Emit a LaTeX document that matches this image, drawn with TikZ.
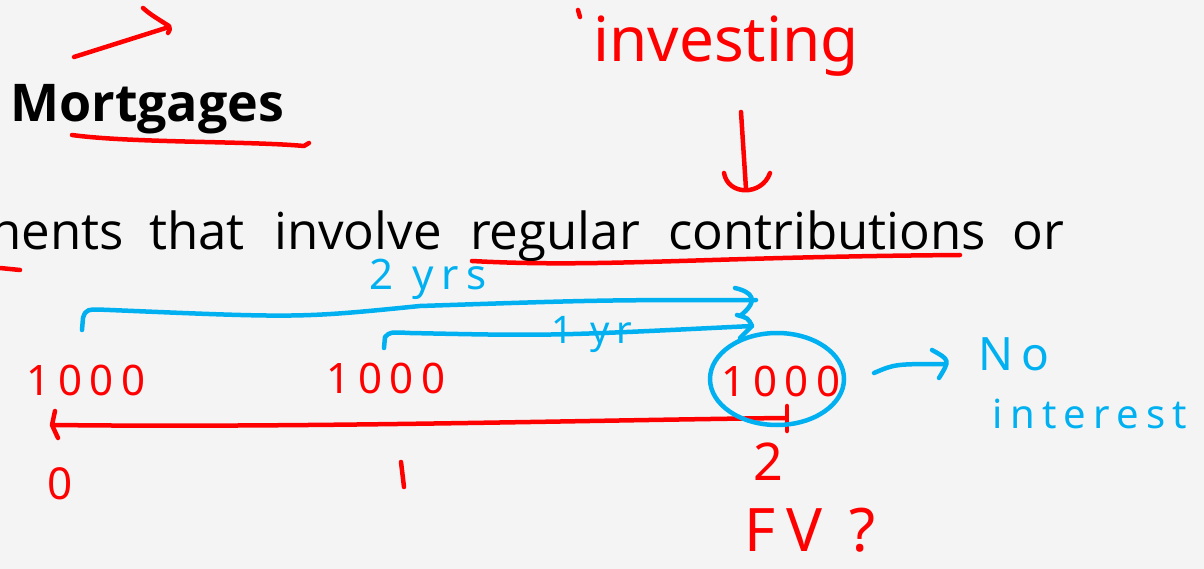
\documentclass[tikz,border=0pt]{standalone}
\usepackage{fontspec}
\setmainfont{Open Sans}
\newfontfamily\hand{Noto Sans}
\newfontfamily\handwide[LetterSpace=18]{Noto Sans}
\definecolor{ink}{HTML}{FF0000}
\definecolor{blu}{HTML}{00B0F0}
\definecolor{bg}{HTML}{F4F4F4}
\begin{document}
\begin{tikzpicture}[x=1pt,y=-1pt,
  pen/.style={line width=4.5pt,line cap=round,line join=round},
  redpen/.style={pen,draw=ink},
  bluepen/.style={pen,draw=blu},
  slide/.style={inner sep=0,anchor=base west,font=\fontsize{51}{60}\selectfont},
  hw/.style={inner sep=0,font=\hand\fontsize{44}{50}\selectfont},
  num/.style={inner sep=0,text=ink,font=\handwide\fontsize{42}{48}\selectfont},
]
\fill[bg] (0,0) rectangle (1204,569);
\useasboundingbox (0,0) rectangle (1204,569);

% slide text
\node[slide,font=\bfseries\fontsize{52}{60}\selectfont] (mort) at (10,122) {Mortgages};
\node[slide] (w1) at (-10,250) {nents};
\node[slide] (w2) at (149,250) {that};
\node[slide] (w3) at (274,250) {involve};
\node[slide] (w4) at (470,250) {regular};
\node[slide] (w5) at (668,250) {contributions};
\node[slide] (w6) at (1012,250) {or};

% red annotations
\coordinate (a1s) at (74,57);
\coordinate (a1e) at (169,27);
\draw[redpen] (a1s) -- (a1e);
\draw[redpen] (143,8) .. controls (150,14) .. (169,26) .. controls (170,30) .. (168,33);
\draw[redpen] (72,135) .. controls (130,143) and (250,141) .. (304,146) -- (309,143);

\node[hw,text=ink,font=\hand\fontsize{62}{66}\selectfont] (inv) at (726,46) {investing};
\draw[redpen] (578,10) -- (580,17);
\coordinate (dTop) at (741,112);
\coordinate (dBot) at (746,189);
\draw[redpen] (dTop) .. controls (743,150) .. (dBot);
\draw[redpen] (724,173) .. controls (728,196) and (762,196) .. (770,173);

\draw[redpen] (0,268) -- (20,270);
\draw[redpen] (472,261) .. controls (600,268) and (700,257) .. (960,255);

% time line
\node[num] (n0) at (86,380) {1000};
\node[num] (n1) at (386,378) {1000};
\node[num] (n2) at (781,381) {1000};
\coordinate (tR) at (785,418);
\coordinate (tL) at (55,425);
\draw[redpen] (tR) .. controls (600,420) and (300,428) .. (tL);
\draw[redpen] (55,411) -- (52,425) -- (58,438);
\draw[redpen] (787,406) -- (787,431);
\node[hw,text=ink,font=\hand\fontsize{44}{50}\selectfont] (t0) at (60,484) {0};
\draw[redpen] (401,462) -- (404,487);
\node[hw,text=ink,font=\hand\fontsize{52}{58}\selectfont] (t2) at (768,462) {2};
\node[hw,text=ink,font=\handwide\fontsize{60}{64}\selectfont] (fv) at (810,530) {FV ?};

% blue annotations
\node[hw,text=blu,font=\handwide\fontsize{42}{46}\selectfont] (yr2) at (428,279) {2 yrs};
\coordinate (b1s) at (82,330);
\coordinate (b1e) at (756,300);
\draw[bluepen] (b1s) -- (83,318) .. controls (86,309) .. (110,310) .. controls (300,318) .. (420,306) .. controls (600,300) .. (b1e);
\draw[bluepen] (735,288) .. controls (752,292) and (760,300) .. (740,316);
\coordinate (b2s) at (384,348);
\coordinate (b2e) at (752,326);
\draw[bluepen] (b2s) -- (385,337) .. controls (390,332) .. (410,333) .. controls (550,336) .. (b2e);
\draw[bluepen] (737,315) .. controls (748,318) .. (752,326) -- (740,338);
\node[hw,text=blu,font=\handwide\fontsize{38}{42}\selectfont] (yr1) at (592,334) {1 yr};

\draw[bluepen] (777,379) ellipse [x radius=67, y radius=46];
\coordinate (c1) at (874,373);
\coordinate (c2) at (946,364);
\draw[bluepen] (c1) .. controls (895,364) .. (c2);
\draw[bluepen] (932,350) .. controls (950,360) .. (939,378);
\node[hw,text=blu,font=\handwide\fontsize{46}{50}\selectfont] (no) at (1014,354) {No};
\node[hw,text=blu,font=\handwide\fontsize{40}{46}\selectfont] (int) at (1090,414) {interest};
\end{tikzpicture}
\end{document}
